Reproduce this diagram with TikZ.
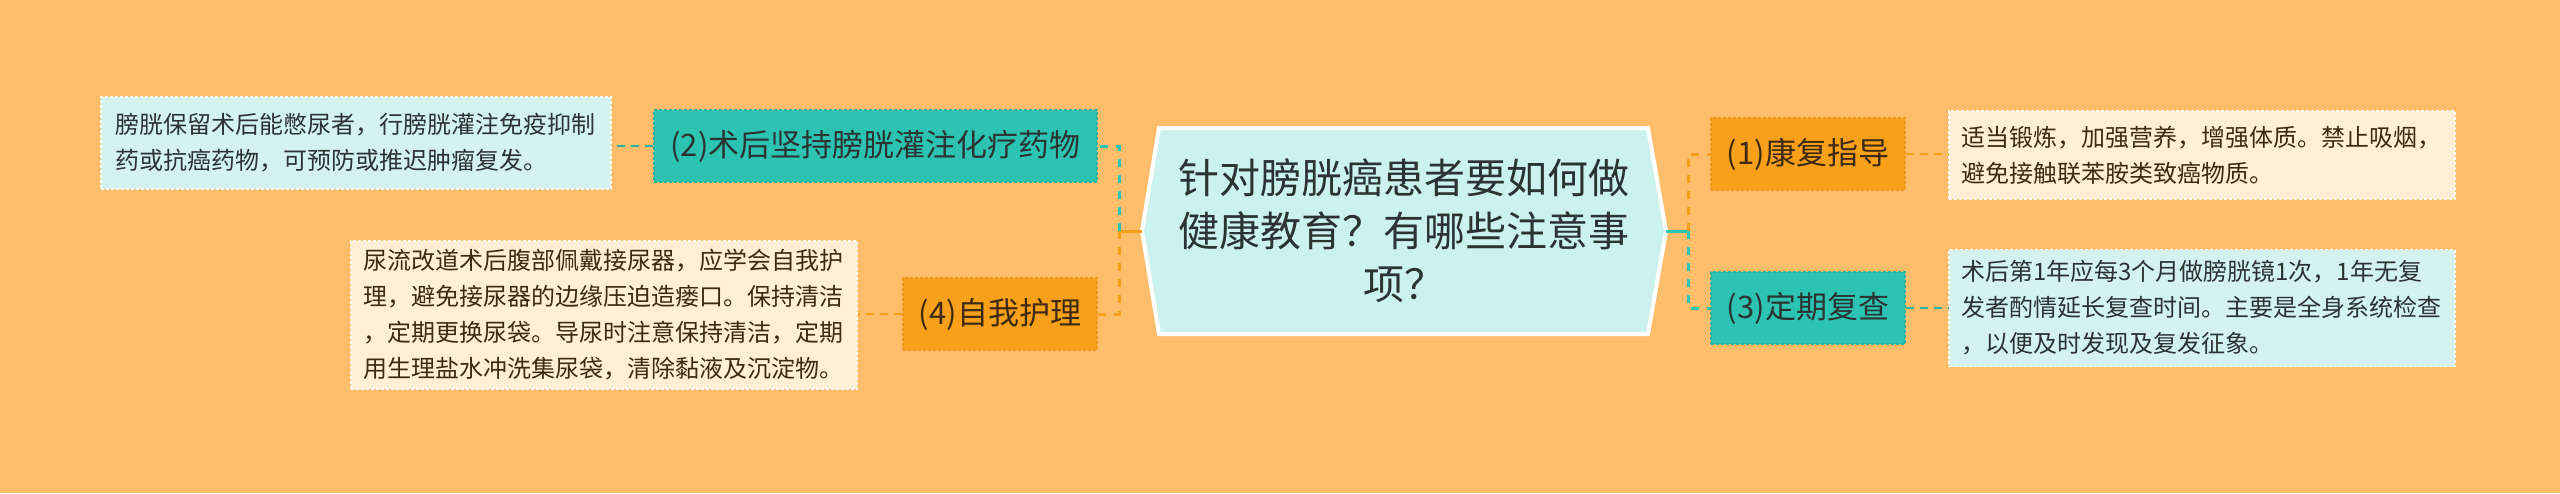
\documentclass[tikz,border=0pt]{standalone}
\usepackage{fontspec}
\setmainfont{Noto Sans CJK SC}
\definecolor{bg}{HTML}{FEBD6A}
\definecolor{tealn}{HTML}{2CC3B3}
\definecolor{tealb}{HTML}{25B2A3}
\definecolor{orgn}{HTML}{F9A01B}
\definecolor{orgb}{HTML}{EE9818}
\definecolor{centerfill}{HTML}{CCF2EF}
\definecolor{leafcyan}{HTML}{D4F3F0}
\definecolor{leafcream}{HTML}{FEEFD6}
\definecolor{txtdark}{HTML}{2B3333}
\definecolor{txtbrown}{HTML}{3E2A12}
\begin{document}
\begin{tikzpicture}[x=1pt,y=-1pt,
  mainteal/.style={fill=tealn, draw=tealb, dash pattern=on 3pt off 2pt, line width=1.5pt,
    minimum height=72pt, inner sep=0pt, text=txtdark, font=\fontsize{31}{37}\selectfont},
  mainorg/.style={fill=orgn, draw=orgb, dash pattern=on 3pt off 2pt, line width=1.5pt,
    minimum height=72pt, inner sep=0pt, text=txtbrown, font=\fontsize{31}{37}\selectfont},
  leafc/.style={fill=leafcyan, draw=white!80!leafcyan, dash pattern=on 3pt off 2pt, line width=1.5pt,
    inner xsep=12pt, inner ysep=0pt, align=left, text=txtdark, font=\fontsize{24}{36}\selectfont},
  leafo/.style={fill=leafcream, draw=white!80!leafcream, dash pattern=on 3pt off 2pt, line width=1.5pt,
    inner xsep=12pt, inner ysep=0pt, align=left, text=txtbrown, font=\fontsize{24}{36}\selectfont},
  solidt/.style={draw=tealn, line width=3pt},
  solido/.style={draw=orgn, line width=3pt},
  dasht/.style={draw=tealn, line width=3pt, dash pattern=on 8pt off 8pt},
  dasho/.style={draw=orgn, line width=3pt, dash pattern=on 8pt off 8pt},
  ldasht/.style={draw=tealb, line width=2pt, dash pattern=on 8pt off 6pt},
  ldasho/.style={draw=orgn, line width=2pt, dash pattern=on 8pt off 6pt}]
\fill[bg] (0,0) rectangle (2560,493);
\useasboundingbox (0,0) rectangle (2560,493);

% center hexagon
\filldraw[fill=centerfill, draw=white, line width=4pt, line join=miter]
  (1142,231) -- (1159,128) -- (1648,128) -- (1666,231) -- (1648,334) -- (1159,334) -- cycle;
\node[align=center, text=txtdark, font=\fontsize{41}{53}\selectfont] (c) at (1404,231)
  {针对膀胱癌患者要如何做\\健康教育？有哪些注意事\\项？};
\coordinate (cl) at (1142,231);
\coordinate (jl) at (1119,231);
\coordinate (cr) at (1666,231);
\coordinate (jr) at (1688,231);

% main nodes
\node[mainteal, minimum width=443pt] (n2) at (875.5,146) {(2)术后坚持膀胱灌注化疗药物};
\node[mainorg, minimum width=194pt] (n4) at (1000,314) {(4)自我护理};
\node[mainorg, minimum width=194pt] (n1) at (1808,154) {(1)康复指导};
\node[mainteal, minimum width=194pt] (n3) at (1808,308) {(3)定期复查};

% leaves
\node[leafc, text width=482pt, inner xsep=14pt, minimum height=92pt] (l2) at (356,143)
  {膀胱保留术后能憋尿者，行膀胱灌注免疫抑制\\药或抗癌药物，可预防或推迟肿瘤复发。};
\node[leafo, text width=482pt, minimum height=148pt] (l4) at (604,315)
  {尿流改道术后腹部佩戴接尿器，应学会自我护\\理，避免接尿器的边缘压迫造瘘口。保持清洁\\，定期更换尿袋。导尿时注意保持清洁，定期\\用生理盐水冲洗集尿袋，清除黏液及沉淀物。};
\node[leafo, text width=482pt, minimum height=88pt] (l1) at (2202,155)
  {适当锻炼，加强营养，增强体质。禁止吸烟，\\避免接触联苯胺类致癌物质。};
\node[leafc, text width=482pt, minimum height=117pt] (l3) at (2202,308)
  {术后第1年应每3个月做膀胱镜1次，1年无复\\发者酌情延长复查时间。主要是全身系统检查\\，以便及时发现及复发征象。};

% connectors center -> main
\draw[solido] (cl) -- (jl);
\draw[dasht] (jl) |- (n2.east);
\draw[dasho] (jl) |- (n4.east);
\draw[solidt] (cr) -- (jr);
\draw[dasho] (jr) |- (n1.west);
\draw[dasht] (jr) |- (n3.west);

% connectors main -> leaf
\draw[ldasht] (n2.west) -- (n2.west -| l2.east);
\draw[ldasho] (n4.west) -- (n4.west -| l4.east);
\draw[ldasho] (n1.east) -- (n1.east -| l1.west);
\draw[ldasht] (n3.east) -- (n3.east -| l3.west);
\end{tikzpicture}
\end{document}
